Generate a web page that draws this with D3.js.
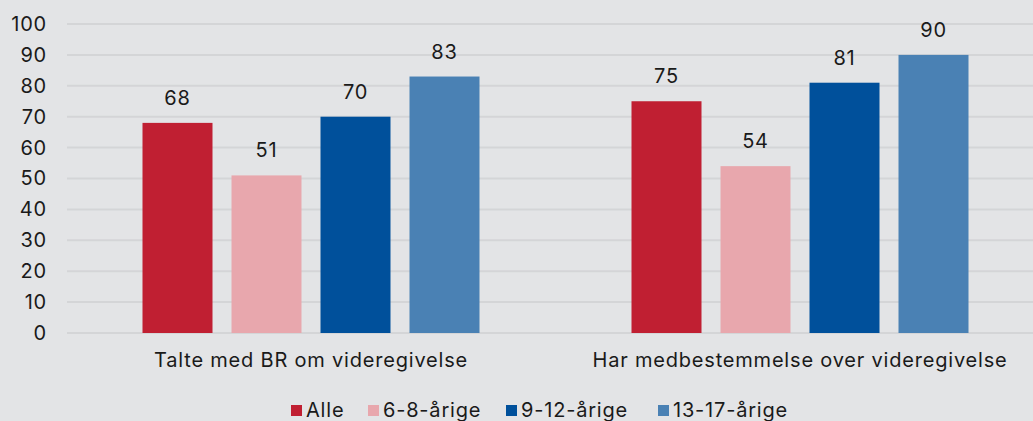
<!DOCTYPE html>
<html>
<head>
<meta charset="utf-8">
<script src="https://cdn.jsdelivr.net/npm/d3@7"></script>
<style>
  html, body { margin: 0; padding: 0; background: #e3e4e6; }
  svg { display: block; font-family: Inter, "Noto Sans", sans-serif; }
  svg text { letter-spacing: 0.8px; }
</style>
</head>
<body>
<svg id="chart" width="1033" height="421"></svg>
<script>
const categories = ["Talte med BR om videregivelse", "Har medbestemmelse over videregivelse"];
const seriesNames = ["Alle", "6-8-årige", "9-12-årige", "13-17-årige"];
const seriesColors = ["#c01f32", "#e8a7ad", "#00509b", "#4a81b4"];
const alle = [68, 75];
const age6to8 = [51, 54];
const age9to12 = [70, 81];
const age13to17 = [83, 90];
const yTicks = [0, 10, 20, 30, 40, 50, 60, 70, 80, 90, 100];

const seriesValues = [alle, age6to8, age9to12, age13to17];
const fontSize = 20;

const svg = d3.select("#chart");

// scales
let x = d3.scaleBand()
	.domain(categories)
	.range([66.5, 1044.5])
	.padding(0);

let xInner = d3.scaleBand()
	.domain(seriesNames)
	.range([76, 413])
	.paddingInner(0.2135)
	.paddingOuter(0);

let y = d3.scaleLinear()
	.domain([0, 100])
	.range([333, 24]);

// gridlines
svg.append("g")
	.selectAll("line")
	.data(yTicks)
	.enter()
	.append("line")
		.attr("x1", 67)
		.attr("x2", 1033)
		.attr("y1", d => y(d))
		.attr("y2", d => y(d))
		.attr("stroke", "#d4d5d7")
		.attr("stroke-width", 2);

// y axis labels
let yAxis = svg.append("g")
	.attr("transform", "translate(47,0)")
	.call(d3.axisLeft(y).tickValues(yTicks).tickSize(0).tickPadding(0));
yAxis.select(".domain").remove();
yAxis.selectAll("text")
	.attr("font-family", "Inter, 'Noto Sans', sans-serif")
	.attr("font-size", fontSize)
	.attr("fill", "#1a1a1a");

// bars
let data = [];
categories.forEach((c, i) => {
	seriesNames.forEach((s, j) => {
		data.push({ cat: c, series: s, value: seriesValues[j][i], color: seriesColors[j] });
	});
});

let groups = svg.append("g");
groups.selectAll("rect")
	.data(data)
	.enter()
	.append("rect")
		.attr("x", d => x(d.cat) + xInner(d.series))
		.attr("y", d => y(d.value))
		.attr("width", xInner.bandwidth())
		.attr("height", d => y(0) - y(d.value))
		.attr("fill", d => d.color);

// value labels
groups.selectAll("text")
	.data(data)
	.enter()
	.append("text")
		.attr("x", d => x(d.cat) + xInner(d.series) + xInner.bandwidth() / 2)
		.attr("y", d => y(d.value) - 18)
		.attr("text-anchor", "middle")
		.attr("font-size", fontSize)
		.attr("fill", "#1a1a1a")
		.text(d => d.value);

// category labels
svg.append("g")
	.selectAll("text")
	.data(categories)
	.enter()
	.append("text")
		.attr("x", d => x(d) + x.bandwidth() / 2)
		.attr("y", 367)
		.attr("text-anchor", "middle")
		.attr("font-size", fontSize)
		.attr("fill", "#1a1a1a")
		.text(d => d);

// legend
const legendX = [291, 368, 506, 658];
let legend = svg.append("g");
seriesNames.forEach((s, i) => {
	legend.append("rect")
		.attr("x", legendX[i])
		.attr("y", 405)
		.attr("width", 11)
		.attr("height", 11)
		.attr("fill", seriesColors[i]);
	legend.append("text")
		.attr("x", legendX[i] + 15)
		.attr("y", 417)
		.attr("font-size", fontSize)
		.attr("fill", "#1a1a1a")
		.text(s);
});
</script>
</body>
</html>
